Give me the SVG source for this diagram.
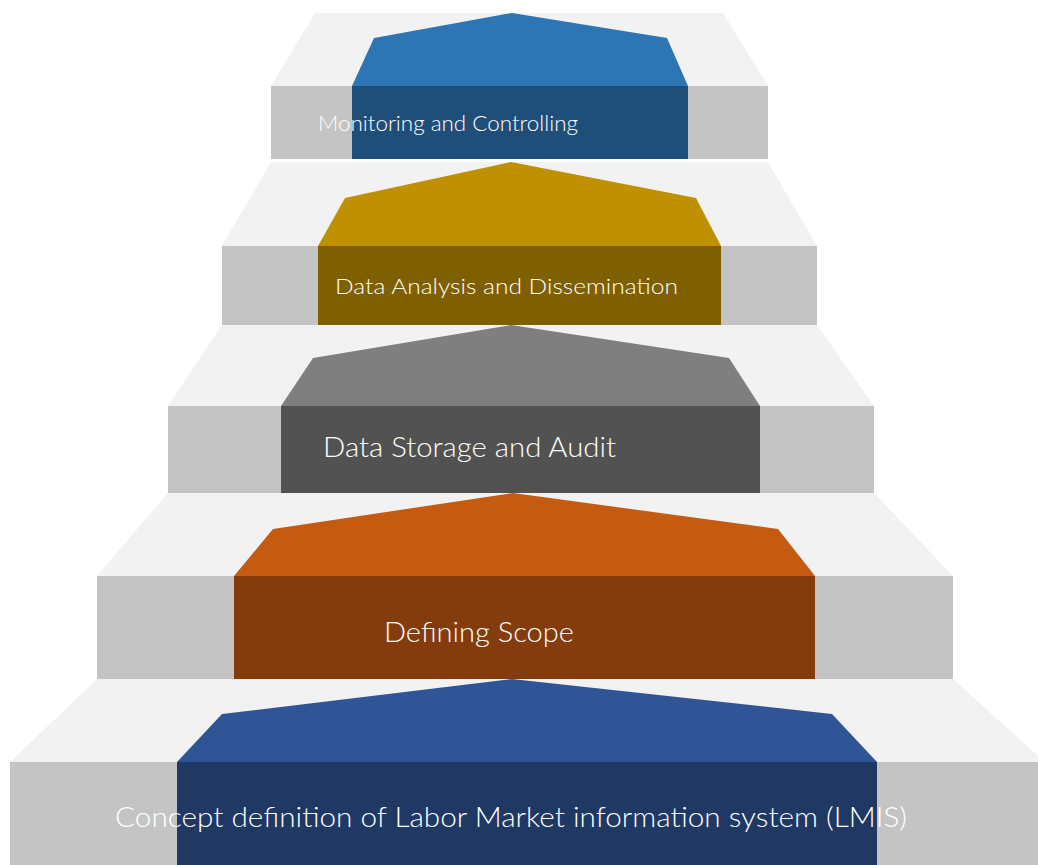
<svg xmlns="http://www.w3.org/2000/svg" width="1038" height="865" viewBox="0 0 1038 865">
<style>
.top{fill:#f2f2f2}
.front{fill:#c4c4c4}
.lbl{font-family:Lato,"Open Sans","Liberation Sans",sans-serif;font-weight:300;fill:#ffffff}
</style>
<rect x="0" y="0" width="1038" height="865" fill="#ffffff"/>
<g id="step1">
<polygon class="top" points="315,13 723,13 768,86 271,86"/>
<rect class="front" x="271" y="86" width="497" height="73"/>
<polygon fill="#2e75b6" points="512,13 667,38 688,86 352,86 374,38"/>
<rect fill="#1f4e79" x="352" y="86" width="336" height="73"/>
<text class="lbl" x="318" y="131" font-size="22" textLength="260" lengthAdjust="spacingAndGlyphs">Monitoring and Controlling</text>
</g>
<g id="step2">
<polygon class="top" points="271,162 768,162 817,246 222,246"/>
<rect class="front" x="222" y="246" width="595" height="79"/>
<polygon fill="#bf9000" points="511,162 696,198 721,246 318,246 345,198"/>
<rect fill="#7f6000" x="318" y="246" width="403" height="79"/>
<text class="lbl" x="335" y="294" font-size="21.5" textLength="343" lengthAdjust="spacingAndGlyphs">Data Analysis and Dissemination</text>
</g>
<g id="step3">
<polygon class="top" points="222,325 817,325 874,406 168,406"/>
<rect class="front" x="168" y="406" width="706" height="87"/>
<polygon fill="#7f7f7f" points="511,325 729,358 760,406 281,406 313,358"/>
<rect fill="#525252" x="281" y="406" width="479" height="87"/>
<text class="lbl" x="323" y="457" font-size="26.5" textLength="293" lengthAdjust="spacingAndGlyphs">Data Storage and Audit</text>
</g>
<g id="step4">
<polygon class="top" points="168,493 874,493 953,576 97,576"/>
<rect class="front" x="97" y="576" width="856" height="103"/>
<polygon fill="#c55a11" points="513,493 778,529 815,576 234,576 273,529"/>
<rect fill="#843c0c" x="234" y="576" width="581" height="103"/>
<text class="lbl" x="384" y="642" font-size="28" textLength="190" lengthAdjust="spacingAndGlyphs">Defining Scope</text>
</g>
<g id="step5">
<polygon class="top" points="97,679 953,679 1045,762 10,762"/>
<rect class="front" x="10" y="762" width="1028" height="103"/>
<polygon fill="#2f5597" points="512,679 832,714 877,762 177,762 222,714"/>
<rect fill="#203864" x="177" y="762" width="700" height="103"/>
<text class="lbl" x="115" y="827" font-size="28" textLength="792" lengthAdjust="spacingAndGlyphs">Concept definition of Labor Market information system (LMIS)</text>
</g>
<g id="connectors"/>
</svg>
